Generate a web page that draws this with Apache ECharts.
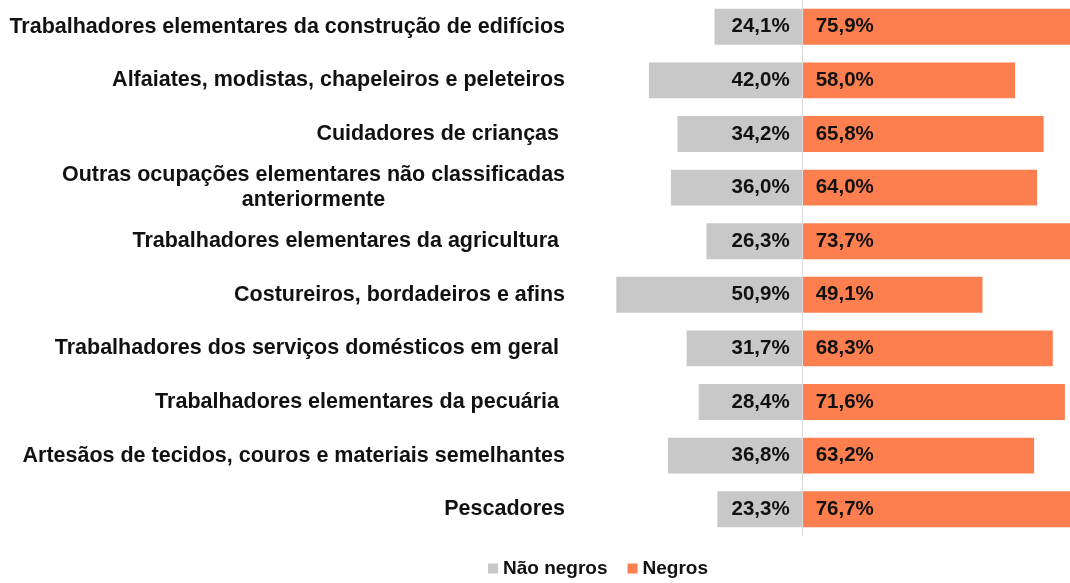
<!DOCTYPE html>
<html>
<head>
<meta charset="utf-8">
<script src="https://cdn.jsdelivr.net/npm/echarts@6/dist/echarts.min.js"></script>
<style>
  html, body { margin: 0; padding: 0; background: #fff; }
  #chart { width: 1070px; height: 583px; }
</style>
</head>
<body>
<div id="chart"></div>
<script>
const categories = [
  'Trabalhadores elementares da construção de edifícios',
  'Alfaiates, modistas, chapeleiros e peleteiros',
  'Cuidadores de crianças ',
  'Outras ocupações elementares não classificadas\nanteriormente',
  'Trabalhadores elementares da agricultura ',
  'Costureiros, bordadeiros e afins',
  'Trabalhadores dos serviços domésticos em geral ',
  'Trabalhadores elementares da pecuária ',
  'Artesãos de tecidos, couros e materiais semelhantes',
  'Pescadores'
]
const naoNegros = [24.1, 42.0, 34.2, 36.0, 26.3, 50.9, 31.7, 28.4, 36.8, 23.3]
const negros = [75.9, 58.0, 65.8, 64.0, 73.7, 49.1, 68.3, 71.6, 63.2, 76.7]

const FONT = 'Arial, "Liberation Sans", sans-serif'
const fmt = v => Math.abs(v).toFixed(1).replace('.', ',') + '%'

const chart = echarts.init(document.getElementById('chart'), null, { renderer: 'canvas' })

const labelStyle = {
  show: true,
  color: '#111',
  fontFamily: FONT,
  fontWeight: 'bold',
  fontSize: 20.5,
  distance: 13,
  formatter: p => fmt(p.value)
}

chart.setOption({
  animation: false,
  textStyle: { fontFamily: FONT },
  grid: { left: 583, right: 0, top: 0, bottom: 47, containLabel: false },
  legend: {
    left: 483,
    top: 557,
    padding: [2, 5],
    itemWidth: 10,
    itemHeight: 10,
    itemGap: 20,
    icon: 'rect',
    textStyle: { fontFamily: FONT, fontWeight: 'bold', fontSize: 19, color: '#111' },
    data: ['Não negros', 'Negros']
  },
  xAxis: {
    type: 'value',
    min: -60,
    max: 73,
    show: false
  },
  yAxis: {
    type: 'category',
    inverse: true,
    data: categories,
    axisLine: { show: false },
    axisTick: { show: false },
    axisLabel: {
      margin: 18,
      color: '#111',
      fontFamily: FONT,
      fontWeight: 'bold',
      fontSize: 21.5,
      lineHeight: 25,
      formatter: v => {
        if (v.includes('\n')) {
          return v.split('\n').map(s => '{c|' + s + '}').join('\n')
        }
        return v
      },
      rich: {
        c: {
          width: 503,
          align: 'center',
          fontFamily: FONT,
          fontWeight: 'bold',
          fontSize: 21.5,
          lineHeight: 25,
          color: '#111'
        }
      }
    }
  },
  series: [
    {
      name: 'Não negros',
      type: 'bar',
      stack: 'total',
      barCategoryGap: '33%',
      itemStyle: { color: '#c8c8c8' },
      label: Object.assign({ position: 'insideRight' }, labelStyle),
      data: naoNegros.map(v => -v),
      markLine: {
        silent: true,
        symbol: 'none',
        label: { show: false },
        lineStyle: { color: '#dcdcdc', width: 1, type: 'solid' },
        data: [{ xAxis: 0 }]
      }
    },
    {
      name: 'Negros',
      type: 'bar',
      stack: 'total',
      barCategoryGap: '33%',
      itemStyle: { color: '#fd7f4f' },
      label: Object.assign({ position: 'insideLeft' }, labelStyle),
      data: negros
    }
  ]
})
</script>
</body>
</html>
